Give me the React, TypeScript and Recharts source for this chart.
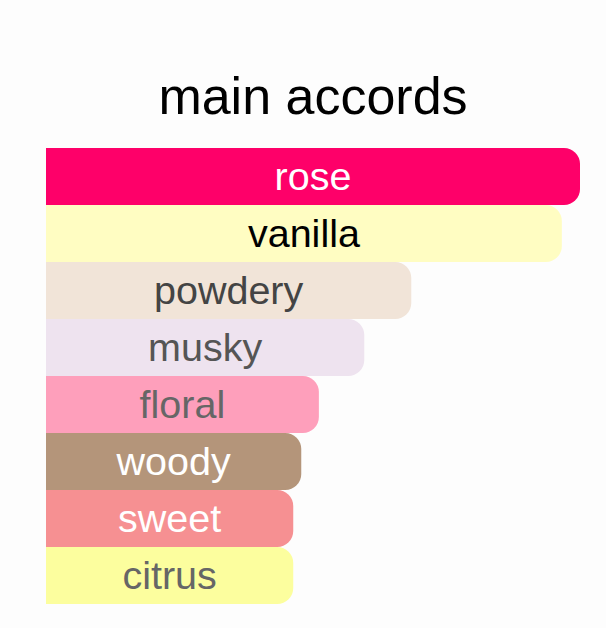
import { BarChart, Bar, XAxis, YAxis, Cell, LabelList } from 'recharts';

const accords = ['rose', 'vanilla', 'powdery', 'musky', 'floral', 'woody', 'sweet', 'citrus'];
const strength = [100, 96.6, 68.4, 59.6, 51.1, 47.8, 46.3, 46.3];
const barColors = ['#FE0069', '#FFFDC2', '#F1E4D8', '#EEE3EF', '#FE9FBB', '#B4957A', '#F69092', '#FCFE9E'];
const labelColors = ['#FFFFFF', '#000000', '#444444', '#555555', '#666666', '#FFFFFF', '#FFFFFF', '#666666'];

const data = accords.map((name, i) => ({ name, value: strength[i] }));

const FONT = '"Liberation Sans", Arial, Helvetica, sans-serif';

const renderLabel = (props: any) => {
  const { x, y, width, height, index, value } = props;
  return (
    <text
      x={x + width / 2}
      y={y + height / 2 - 1}
      textAnchor="middle"
      dominantBaseline="central"
      fill={labelColors[index]}
      fontSize={39.5}
      fontFamily={FONT}
    >
      {value}
    </text>
  );
};

export default function App() {
  return (
    <div
      style={{
        position: 'absolute',
        top: 0,
        left: 0,
        width: 606,
        height: 628,
        background: '#FDFDFD',
        fontFamily: FONT,
      }}
    >
      <div
        style={{
          position: 'absolute',
          top: 70,
          left: 10,
          width: 606,
          textAlign: 'center',
          fontSize: 52,
          lineHeight: '52px',
          color: '#000',
        }}
      >
        main accords
      </div>
      <BarChart
        width={606}
        height={628}
        data={data}
        layout="vertical"
        margin={{ top: 148, right: 26, bottom: 24, left: 46 }}
        barCategoryGap={0}
      >
        <XAxis type="number" domain={[0, 100]} hide />
        <YAxis type="category" dataKey="name" hide />
        <Bar dataKey="value" radius={[0, 16, 16, 0]} isAnimationActive={false}>
          {data.map((d, i) => (
            <Cell key={d.name} fill={barColors[i]} />
          ))}
          <LabelList dataKey="name" content={renderLabel} />
        </Bar>
      </BarChart>
    </div>
  );
}
